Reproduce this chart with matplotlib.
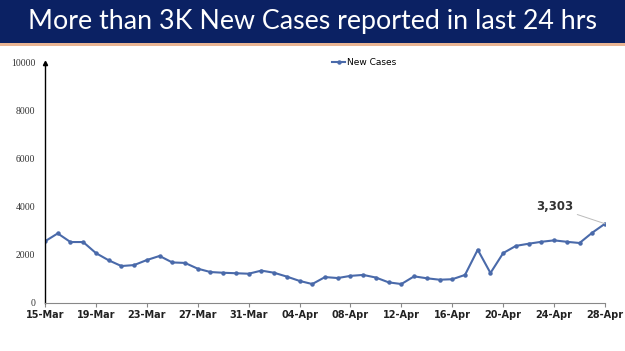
import matplotlib.pyplot as plt
import matplotlib.patches as patches
import numpy as np

# data
dates = ["15-Mar", "16-Mar", "17-Mar", "18-Mar", "19-Mar", "20-Mar", "21-Mar", "22-Mar",
         "23-Mar", "24-Mar", "25-Mar", "26-Mar", "27-Mar", "28-Mar", "29-Mar", "30-Mar",
         "31-Mar", "01-Apr", "02-Apr", "03-Apr", "04-Apr", "05-Apr", "06-Apr", "07-Apr",
         "08-Apr", "09-Apr", "10-Apr", "11-Apr", "12-Apr", "13-Apr", "14-Apr", "15-Apr",
         "16-Apr", "17-Apr", "18-Apr", "19-Apr", "20-Apr", "21-Apr", "22-Apr", "23-Apr",
         "24-Apr", "25-Apr", "26-Apr", "27-Apr", "28-Apr"]
new_cases = [2570, 2900, 2540, 2540, 2080, 1780, 1540, 1580, 1790, 1960, 1690, 1670,
             1430, 1290, 1260, 1240, 1220, 1350, 1260, 1100, 920, 790, 1080, 1040,
             1130, 1170, 1060, 860, 790, 1110, 1030, 970, 990, 1170, 2220, 1250,
             2080, 2380, 2470, 2550, 2610, 2550, 2500, 2930, 3303]
y_ticks = [0, 2000, 4000, 6000, 8000, 10000]
title = "More than 3K New Cases reported in last 24 hrs"

fig = plt.figure(figsize=(6.25, 3.51), dpi=100)

# banner
fig.patches.append(patches.Rectangle((0, 1 - 43 / 351), 1, 43 / 351, transform=fig.transFigure,
                                     facecolor="#0b2163", edgecolor="none", zorder=0))
fig.patches.append(patches.Rectangle((0, 1 - 46 / 351), 1, 3 / 351, transform=fig.transFigure,
                                     facecolor="#eab593", edgecolor="none", zorder=0))
fig.text(0.5, 1 - 22 / 351, title, color="white", fontsize=19.3, family="Lato",
         ha="center", va="center")

ax = fig.add_axes([45 / 625, 1 - 303 / 351, 560 / 625, 240 / 351])
x = np.arange(len(dates))
ax.plot(x, new_cases, color="#4a6aaa", lw=1.5, marker="o", ms=2.2, label="New Cases")

ax.set_xlim(0, len(dates) - 1)
ax.set_ylim(0, 10000)
ax.set_xticks(x[::4])
ax.set_xticklabels(dates[::4], fontsize=7, fontweight="bold", color="#222222")
ax.set_yticks(y_ticks)
ax.set_yticklabels([str(v) for v in y_ticks], fontsize=7, family="Liberation Serif", color="#333333")
ax.tick_params(axis="y", length=0, pad=7)
ax.tick_params(axis="x", length=3, color="#888888", pad=2)

for s in ["top", "right"]:
    ax.spines[s].set_visible(False)
ax.spines["bottom"].set_color("#888888")
ax.spines["bottom"].set_linewidth(0.8)
ax.spines["left"].set_color("black")
ax.spines["left"].set_linewidth(1.0)
ax.plot(0, 1, "^k", ms=3, transform=ax.transAxes, clip_on=False)

ax.annotate("3,303", xy=(x[-1], new_cases[-1]), xytext=(x[-1] - 2.5, 4000),
            fontsize=8.5, fontweight="bold", color="#333333", ha="right", va="center",
            arrowprops=dict(arrowstyle="-", color="#bbbbbb", lw=0.7, shrinkA=1, shrinkB=0))

leg = ax.legend(loc="upper center", bbox_to_anchor=(0.57, 1.055), frameon=False, fontsize=6.5,
                handlelength=1.4, handletextpad=0.2)

fig.savefig("out.png", dpi=100)
